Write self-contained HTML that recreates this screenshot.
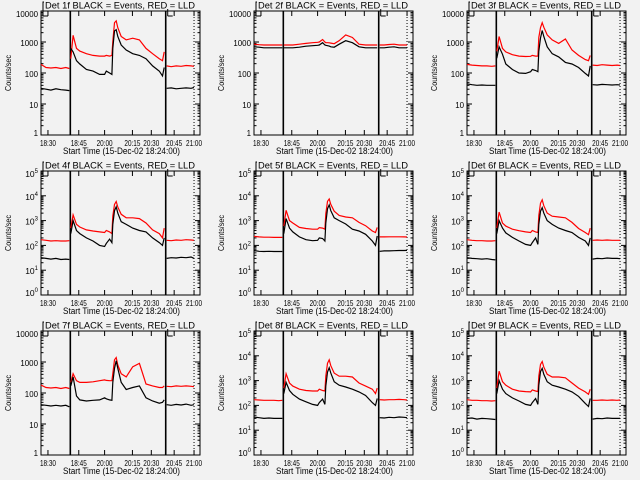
<!DOCTYPE html>
<html><head><meta charset="utf-8">
<style>
html,body{margin:0;padding:0;background:#f2f2f2;}
svg{display:block;font-family:"Liberation Sans",sans-serif;}
</style></head>
<body>
<svg id="chart" width="640" height="480" viewBox="0 0 640 480" xmlns="http://www.w3.org/2000/svg">
<rect x="0" y="0" width="640" height="480" fill="#f2f2f2"/>
</svg>
<script>
// shared time axis (plot units)
const T=[0,5,10,15,20,25,28.5, 30,32.3,35.7,39,45.7,52.3,59,64,65.7,69,71.3,72.3,74,75.7,77.3,80.7,85.7,92.3,99,105.7,112.3,119,122.3,124, 126.5,131,136,141,146,151,154];
const BREAKS=[29.5,125.5];
const DOTTED=[154];
const XTICK_POS=[7,38,64,92,111,134,154];
const XTICK_LABELS=["18:30","18:45","20:00","20:15","20:30","20:45","21:00"];

const D1_BLACK=[32,30,28,31,29,28,27, 620,480,250,195,130,115,90,90,115,100,90,620,2260,2500,1500,800,550,420,370,290,170,115,80,150, 32,33,31,32,33,32,34];
const D1_RED=[190,150,145,150,140,150,140, 290,1650,620,510,420,370,350,350,370,350,370,1030,4200,4800,2900,1500,1170,1330,1170,620,420,290,250,480, 170,160,170,165,175,170,165];
const D2_BLACK=[700,680,650,650,650,650,650, 650,650,650,650,680,730,760,780,800,950,800,780,760,740,700,680,850,1100,950,700,650,650,650,650, 650,650,680,700,650,650,650];
const D2_RED=[850,820,800,800,800,800,800, 800,800,800,800,850,900,950,980,1000,1200,1000,950,950,940,920,880,1100,1700,1400,850,800,800,800,800, 800,800,830,850,800,800,800];
const D3_BLACK=[45,42,40,41,40,40,40, 300,700,400,195,130,100,97,110,130,120,110,500,1350,2350,1500,700,420,330,220,195,150,97,80,170, 42,41,43,42,41,42,41];
const D3_RED=[190,180,175,170,170,165,170, 500,1500,620,480,390,350,340,345,370,350,350,1400,2900,4200,3000,1700,1170,900,1250,550,370,270,250,370, 180,175,185,180,175,180,175];
const D4_BLACK=[32,30,28,30,27,28,27, 300,1000,400,300,200,150,100,90,120,180,130,700,2500,3600,2000,900,700,500,400,350,200,130,100,200, 30,32,31,33,32,34,30];
const D4_RED=[170,160,150,155,150,150,155, 500,1700,700,550,420,380,350,330,400,350,300,1500,4500,5900,3500,1800,1300,1300,1200,800,420,300,200,500, 160,155,165,160,170,165,160];
const D5_BLACK=[62,58,57,58,57,57,57, 300,1200,500,350,220,170,155,160,200,190,150,800,3000,4300,2500,1300,1000,730,450,380,280,150,100,240, 58,60,60,61,62,62,63];
const D5_RED=[230,220,215,215,210,210,210, 600,2600,1000,800,530,480,450,450,520,500,450,1900,6000,7400,4500,2400,1600,1400,1300,850,620,380,330,530, 220,220,222,222,222,220,218];
const D6_BLACK=[32,30,29,28,29,27,26, 300,1000,500,320,210,150,110,100,130,200,110,700,2400,3300,2000,1000,700,500,400,330,210,150,100,200, 28,30,29,31,30,30,29];
const D6_RED=[170,160,155,155,150,150,155, 500,2200,800,600,450,390,350,330,400,350,330,1600,5000,6900,4000,2000,1500,1400,1300,850,480,330,270,500, 160,165,160,165,160,160,160];
const D7_BLACK=[42,40,38,40,38,40,36, 170,330,80,60,55,58,60,70,65,60,58,220,620,1100,620,220,130,150,170,70,55,47,50,60, 42,40,43,41,44,40,42];
const D7_RED=[180,150,145,150,140,150,140, 220,420,250,220,220,230,250,265,255,250,250,420,1180,1400,800,420,330,700,900,195,170,150,150,170, 165,160,170,165,170,165,160];
const D8_BLACK=[34,32,30,31,30,30,30, 300,850,400,280,180,140,110,100,130,180,110,600,2200,3300,2000,900,650,550,450,350,250,130,100,190, 32,31,33,32,34,33,32];
const D8_RED=[170,165,160,160,160,155,160, 500,1900,800,600,450,400,380,380,450,400,380,1500,5000,6900,4000,2000,1500,1500,1400,800,600,450,300,500, 170,165,170,170,175,170,165];
const D9_BLACK=[30,31,28,30,29,28,27, 300,1000,450,300,200,150,110,100,130,190,110,650,2300,3100,1800,900,650,550,450,350,230,120,90,190, 28,30,29,31,30,30,30];
const D9_RED=[170,160,160,155,155,150,155, 500,2400,900,650,450,380,360,350,420,380,360,1500,4500,5900,3500,1800,1400,1400,1300,800,500,350,280,450, 160,160,165,160,165,160,165];

const SVGNS="http://www.w3.org/2000/svg";
const svg=document.getElementById('chart');
const PANELS=[
 {id:'1f',col:0,row:0,dec:4,sup:false,black:D1_BLACK,red:D1_RED},
 {id:'2f',col:1,row:0,dec:4,sup:false,black:D2_BLACK,red:D2_RED},
 {id:'3f',col:2,row:0,dec:4,sup:false,black:D3_BLACK,red:D3_RED},
 {id:'4f',col:0,row:1,dec:5,sup:true,black:D4_BLACK,red:D4_RED},
 {id:'5f',col:1,row:1,dec:5,sup:true,black:D5_BLACK,red:D5_RED},
 {id:'6f',col:2,row:1,dec:5,sup:true,black:D6_BLACK,red:D6_RED},
 {id:'7f',col:0,row:2,dec:4,sup:false,black:D7_BLACK,red:D7_RED},
 {id:'8f',col:1,row:2,dec:5,sup:true,black:D8_BLACK,red:D8_RED},
 {id:'9f',col:2,row:2,dec:5,sup:true,black:D9_BLACK,red:D9_RED}
];
const COLX=[0,213,426], ROWY=[0,160,320];
function mk(tag,attrs,parent){const e=document.createElementNS(SVGNS,tag);for(const k in attrs)e.setAttribute(k,attrs[k]);(parent||svg).appendChild(e);return e;}

PANELS.forEach(p=>{
  const ox=COLX[p.col], oy=ROWY[p.row];
  const L=ox+41, R=ox+200, TOP=oy+11, BOT=oy+135;
  const xs=u=>L+u*(R-L)/160;
  const ys=v=>TOP+(p.dec-Math.log10(v))/p.dec*(BOT-TOP);
  const g=mk('g',{});
  
  
  const fr=mk('rect',{x:L,y:TOP,width:R-L,height:BOT-TOP,fill:'none',stroke:'#000','stroke-width':1},g);
  
  
  for(let d=0;d<=p.dec;d++){
    const y=ys(Math.pow(10,d));
    mk('line',{x1:L,x2:L+5,y1:y,y2:y,stroke:'#000'},g);
    mk('line',{x1:R,x2:R-5,y1:y,y2:y,stroke:'#000'},g);
    const lbl=p.sup?null:String(Math.pow(10,d));
    const attrs={x:L-3,y:y+(d==p.dec?6:d==0?1:4),'font-size':8.5,'text-anchor':'end',fill:'#000'};
    if(!p.sup){attrs.textLength=lbl.length*4.4;attrs.lengthAdjust='spacingAndGlyphs';}
    const t=mk('text',attrs,g);
    
    
    if(p.sup){t.textContent='10';const s=mk('tspan',{'font-size':6,dy:-4},t);s.textContent=String(d);}
    else t.textContent=lbl;
    if(d<p.dec){for(let m=2;m<=9;m++){const ym=ys(m*Math.pow(10,d));
      mk('line',{x1:L,x2:L+2.5,y1:ym,y2:ym,stroke:'#000'},g);
      mk('line',{x1:R,x2:R-2.5,y1:ym,y2:ym,stroke:'#000'},g);}}
  }
  XTICK_POS.forEach((u,i)=>{
    const x=xs(u);
    mk('line',{x1:x,x2:x,y1:BOT,y2:BOT-5,stroke:'#000'},g);
    mk('line',{x1:x,x2:x,y1:TOP,y2:TOP+5,stroke:'#000'},g);
    const t=mk('text',{x:x,y:BOT+11,'font-size':8.5,'text-anchor':'middle',fill:'#000',textLength:16,lengthAdjust:'spacingAndGlyphs'},g);
    
    
    t.textContent=XTICK_LABELS[i];
  });
  BREAKS.forEach(u=>{const l=mk('line',{x1:xs(u),x2:xs(u),y1:TOP,y2:BOT,stroke:'#000','stroke-width':1.6},g);
    
    });
  DOTTED.forEach(u=>{const l=mk('line',{x1:xs(u),x2:xs(u),y1:TOP,y2:BOT,stroke:'#000','stroke-width':1,'stroke-dasharray':'1,2'},g);
    
    });
  const b=mk('path',{d:`M${L+2},${oy+16}H${L+7}M${L+2},${oy+16}V${oy+2}H${xs(BREAKS[0])} M${xs(BREAKS[1])+2},${oy+16}H${xs(BREAKS[1])+7}M${xs(BREAKS[1])+2},${oy+16}V${oy+2}H${xs(BREAKS[1])+25}`,fill:'none',stroke:'#000'},g);
  
  
  [['red','#ff0000'],['black','#000000']].forEach(([k,c])=>{
    const vals=p[k]; const segs=[[]];
    T.forEach((u,i)=>{
      if(i>0 && BREAKS.some(bk=>T[i-1]<bk && u>bk)) segs.push([]);
      segs[segs.length-1].push(xs(u).toFixed(1)+','+ys(vals[i]).toFixed(1));
    });
    segs.forEach(s=>{const pl=mk('polyline',{points:s.join(' '),fill:'none',stroke:c,'stroke-width':1.2},g);
      
      });
  });
  const tt=mk('rect',{x:ox+44,y:oy,width:152,height:9,fill:'#f2f2f2'},g);
  
  
  const ti=mk('text',{x:ox+45,y:oy+8.5,'font-size':9,fill:'#000',textLength:150,lengthAdjust:'spacingAndGlyphs'},g);
  
  
  ti.textContent='Det '+p.id+' BLACK = Events, RED = LLD';
  const xt=mk('text',{x:ox+63,y:oy+154,'font-size':9,fill:'#000',textLength:117,lengthAdjust:'spacingAndGlyphs'},g);
  
  
  xt.textContent='Start Time (15-Dec-02 18:24:00)';
  const yt=mk('text',{x:0,y:0,'font-size':8,'text-anchor':'middle',fill:'#000',textLength:36,lengthAdjust:'spacingAndGlyphs',transform:`translate(${ox+11},${oy+73}) rotate(-90)`},g);
  
  
  yt.textContent='Counts/sec';
});
</script>
</body></html>
